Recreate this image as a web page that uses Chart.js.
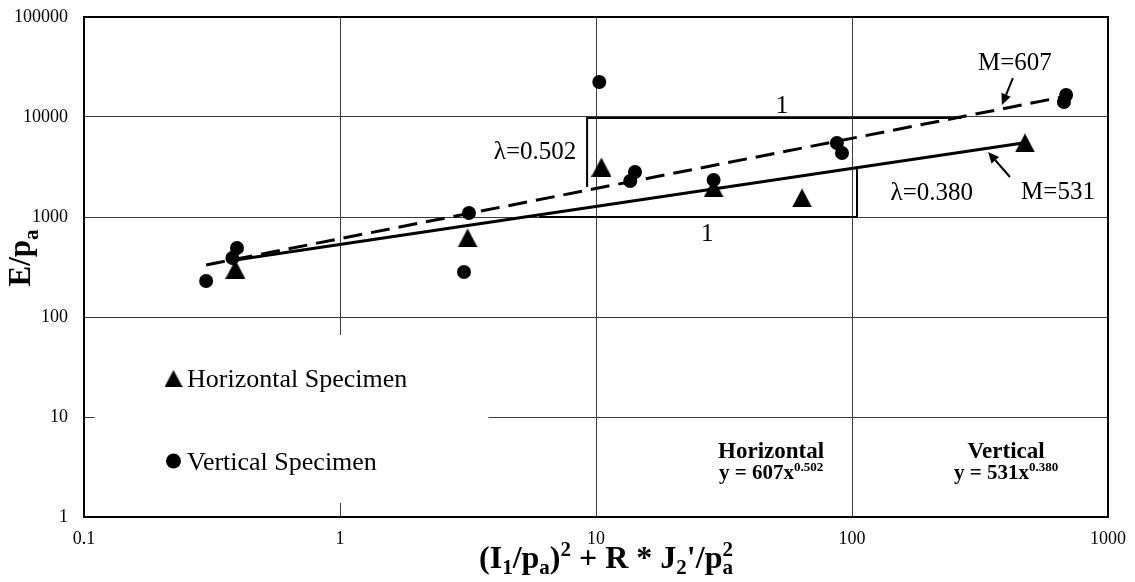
<!DOCTYPE html>
<html>
<head>
<meta charset="utf-8">
<script src="https://cdn.jsdelivr.net/npm/chart.js@4.4.0/dist/chart.umd.min.js"></script>
<style>
  html, body { margin: 0; padding: 0; background: #fff; }
  #wrap { width: 1135px; height: 582px; position: relative; }
</style>
</head>
<body>
<div id="wrap"><canvas id="c" width="1135" height="582"></canvas></div>
<script>
// ---- axis ticks ----
const xTicks = [0.1, 1, 10, 100, 1000];
const xTickLabels = ['0.1', '1', '10', '100', '1000'];
const yTicks = [1, 10, 100, 1000, 10000, 100000];
const yTickLabels = ['1', '10', '100', '1000', '10000', '100000'];

// ---- measured specimens ----
const horizontalX = [0.39, 3.15, 10.5, 28.8, 63.8, 474];
const horizontalY = [300, 617, 3160, 1950, 1549, 5500];
const verticalX = [0.30, 0.38, 0.396, 3.05, 3.19, 10.3, 13.6, 14.2, 28.8, 87.3, 91.4, 673, 686];
const verticalY = [229, 389, 490, 282, 1096, 22400, 2290, 2818, 2350, 5495, 4365, 14100, 16600];

// ---- power-law fits y = M * x^lambda ----
const fitM = [607, 531];
const fitLambda = [0.502, 0.380];
const fitRangeDashed = [0.30, 700];
const fitRangeSolid = [0.39, 480];

const SERIF = '"Liberation Serif", "Times New Roman", serif';

function fitPoints(M, lam, range) {
  return range.map(x => ({ x: x, y: M * Math.pow(x, lam) }));
}

function pairs(xs, ys) { return xs.map((x, i) => ({ x: x, y: ys[i] })); }

// triangle marker whose box is centred on the point
function triangleSprite(w, h) {
  const c = document.createElement('canvas');
  c.width = w; c.height = h;
  const g = c.getContext('2d');
  g.fillStyle = '#000';
  g.beginPath();
  g.moveTo(w / 2, 0);
  g.lineTo(w, h);
  g.lineTo(0, h);
  g.closePath();
  g.fill();
  return c;
}
const triMarker = triangleSprite(20, 19);
const triLegend = triangleSprite(18, 17);

// draw a run of text pieces with sub/superscripts
function drawRich(ctx, parts, x, y, align) {
  const fontOf = p => (p.bold ? 'bold ' : '') + p.size + 'px ' + SERIF;
  let total = 0, pend = 0;
  for (const p of parts) {
    ctx.font = fontOf(p);
    const pw = ctx.measureText(p.t).width;
    if (p.hold) { pend = Math.max(pend, pw); }
    else { total += Math.max(pw, pend); pend = 0; }
  }
  total += pend;
  let cx = align === 'center' ? x - total / 2 : (align === 'right' ? x - total : x);
  pend = 0;
  ctx.textAlign = 'left';
  ctx.textBaseline = 'alphabetic';
  for (const p of parts) {
    ctx.font = fontOf(p);
    ctx.fillText(p.t, cx, y + (p.dy || 0));
    const pw = ctx.measureText(p.t).width;
    if (p.hold) { pend = Math.max(pend, pw); }
    else { cx += Math.max(pw, pend); pend = 0; }
  }
}

// annotation layout (in data coordinates)
const legendPanel = { x0: 0.11, x1: 3.8, y0: 1.38, y1: 66 };
const slopeDashed = [[9.23, 1995], [9.23, 9772], [267, 9772]];
const slopeSolid = [[6.0, 1000], [104.6, 1000], [104.6, 3090]];
const arrowDashed = [[425, 24500], [385, 13200]];
const arrowSolid = [[414, 2512], [340, 4467]];

const decor = {
  id: 'decor',
  beforeDatasetsDraw(chart) {
    const ctx = chart.ctx, xs = chart.scales.x, ys = chart.scales.y, a = chart.chartArea;
    const X = v => xs.getPixelForValue(v), Y = v => ys.getPixelForValue(v);
    ctx.save();
    // frame
    ctx.strokeStyle = '#000';
    ctx.lineWidth = 2;
    ctx.strokeRect(a.left, a.top, a.right - a.left, a.bottom - a.top);
    // legend panel background
    ctx.fillStyle = '#fff';
    const lx0 = X(legendPanel.x0), lx1 = X(legendPanel.x1);
    const ly0 = Y(legendPanel.y1), ly1 = Y(legendPanel.y0);
    ctx.fillRect(lx0, ly0, lx1 - lx0, ly1 - ly0);
    // slope triangles
    ctx.lineWidth = 2;
    ctx.lineCap = 'butt';
    for (const path of [slopeDashed, slopeSolid]) {
      ctx.beginPath();
      path.forEach((p, i) => {
        const px = X(p[0]), py = Y(p[1]);
        if (i === 0) ctx.moveTo(px, py); else ctx.lineTo(px, py);
      });
      ctx.stroke();
    }
    ctx.restore();
  },
  afterDatasetsDraw(chart) {
    const ctx = chart.ctx, xs = chart.scales.x, ys = chart.scales.y;
    const X = v => xs.getPixelForValue(v), Y = v => ys.getPixelForValue(v);
    ctx.save();
    ctx.fillStyle = '#000';
    ctx.strokeStyle = '#000';

    // arrows
    for (const ar of [arrowDashed, arrowSolid]) {
      const x0 = X(ar[0][0]), y0 = Y(ar[0][1]), x1 = X(ar[1][0]), y1 = Y(ar[1][1]);
      const ang = Math.atan2(y1 - y0, x1 - x0);
      const hl = 11, hw = 5;
      const bx = x1 - hl * Math.cos(ang), by = y1 - hl * Math.sin(ang);
      ctx.lineWidth = 2;
      ctx.beginPath(); ctx.moveTo(x0, y0); ctx.lineTo(bx, by); ctx.stroke();
      ctx.beginPath();
      ctx.moveTo(x1, y1);
      ctx.lineTo(bx + hw * Math.sin(ang), by - hw * Math.cos(ang));
      ctx.lineTo(bx - hw * Math.sin(ang), by + hw * Math.cos(ang));
      ctx.closePath(); ctx.fill();
    }

    // plain annotations
    ctx.font = '25px ' + SERIF;
    ctx.textAlign = 'center';
    ctx.textBaseline = 'middle';
    ctx.fillText('M=607', X(433), Y(34700));
    ctx.fillText('M=531', X(638), Y(1778));
    ctx.fillText('\u03bb=0.380', X(205), Y(1738));
    ctx.fillText('\u03bb=0.502', X(5.78), Y(4467));
    ctx.fillText('1', X(53.3), Y(12900));
    ctx.fillText('1', X(27.2), Y(676));

    // fit equations
    ctx.font = 'bold 23px ' + SERIF;
    ctx.textBaseline = 'alphabetic';
    const headBase = Y(4.47) + 6;
    ctx.fillText('Horizontal', X(48.3), headBase);
    ctx.fillText('Vertical', X(400), headBase);
    const eqBase = headBase + 21;
    drawRich(ctx, [
      { t: 'y = 607x', size: 21, bold: true },
      { t: '0.502', size: 13, bold: true, dy: -8 }
    ], X(48.3), eqBase, 'center');
    drawRich(ctx, [
      { t: 'y = 531x', size: 21, bold: true },
      { t: '0.380', size: 13, bold: true, dy: -8 }
    ], X(400), eqBase, 'center');

    // legend entries
    const legX = 173.5;
    ctx.drawImage(triLegend, legX - 9, 378.5 - 8.5);
    ctx.beginPath(); ctx.arc(legX, 461, 7.5, 0, Math.PI * 2); ctx.fill();
    ctx.font = '26px ' + SERIF;
    ctx.textAlign = 'left';
    ctx.textBaseline = 'alphabetic';
    ctx.fillText('Horizontal Specimen', 187, 387);
    ctx.fillText('Vertical Specimen', 187, 470);

    // axis titles
    drawRich(ctx, [
      { t: '(I', size: 32, bold: true },
      { t: '1', size: 21, bold: true, dy: 6 },
      { t: '/p', size: 32, bold: true },
      { t: 'a', size: 21, bold: true, dy: 6 },
      { t: ')', size: 32, bold: true },
      { t: '2', size: 21, bold: true, dy: -12 },
      { t: ' + R * J', size: 32, bold: true },
      { t: '2', size: 21, bold: true, dy: 6 },
      { t: "'/p", size: 32, bold: true },
      { t: 'a', size: 21, bold: true, dy: 6, hold: true },
      { t: '2', size: 21, bold: true, dy: -12 }
    ], 606, 568, 'center');

    ctx.save();
    ctx.translate(30, 258);
    ctx.rotate(-Math.PI / 2);
    drawRich(ctx, [
      { t: 'E/p', size: 31, bold: true },
      { t: 'a', size: 21, bold: true, dy: 8 }
    ], 0, 0, 'center');
    ctx.restore();

    ctx.restore();
  }
};

const tickFont = { family: SERIF, size: 18 };
const clear = 'rgba(0,0,0,0)';

new Chart(document.getElementById('c').getContext('2d'), {
  type: 'scatter',
  data: {
    datasets: [
      {
        label: 'y = 607x^0.502', type: 'line',
        data: fitPoints(fitM[0], fitLambda[0], fitRangeDashed),
        borderColor: '#000', borderWidth: 3, borderDash: [19, 9],
        pointRadius: 0, fill: false, order: 5
      },
      {
        label: 'y = 531x^0.380', type: 'line',
        data: fitPoints(fitM[1], fitLambda[1], fitRangeSolid),
        borderColor: '#000', borderWidth: 3,
        pointRadius: 0, fill: false, order: 5
      },
      {
        label: 'Vertical Specimen',
        data: pairs(verticalX, verticalY),
        pointStyle: 'circle', pointRadius: 7, pointHoverRadius: 7,
        backgroundColor: '#000', borderColor: '#000', borderWidth: 0, order: 2
      },
      {
        label: 'Horizontal Specimen',
        data: pairs(horizontalX, horizontalY),
        pointStyle: triMarker, pointRadius: 10,
        backgroundColor: '#000', borderColor: '#000', order: 1
      }
    ]
  },
  options: {
    responsive: false,
    animation: false,
    devicePixelRatio: 1,
    layout: { padding: { left: 0, top: 17, right: 27, bottom: 0 } },
    plugins: { legend: { display: false }, tooltip: { enabled: false } },
    scales: {
      x: {
        type: 'logarithmic', min: 0.1, max: 1000,
        afterBuildTicks: s => { s.ticks = xTicks.map(v => ({ value: v })); },
        afterFit: s => { s.height = 65; },
        ticks: {
          callback: (v, i) => xTickLabels[i],
          font: tickFont, color: '#000', padding: 0,
          maxRotation: 0, autoSkip: false
        },
        grid: { color: '#3a3a3a', lineWidth: 1, drawTicks: true, tickLength: 11, tickColor: clear },
        border: { display: true, color: '#000', width: 2 }
      },
      y: {
        type: 'logarithmic', min: 1, max: 100000,
        afterBuildTicks: s => { s.ticks = yTicks.map(v => ({ value: v })); },
        afterFit: s => { s.width = 84; },
        ticks: {
          callback: (v, i) => yTickLabels[i],
          font: tickFont, color: '#000', padding: 0, autoSkip: false
        },
        grid: { color: '#3a3a3a', lineWidth: 1, drawTicks: true, tickLength: 16, tickColor: clear },
        border: { display: true, color: '#000', width: 2 }
      }
    }
  },
  plugins: [decor]
});
</script>
</body>
</html>
